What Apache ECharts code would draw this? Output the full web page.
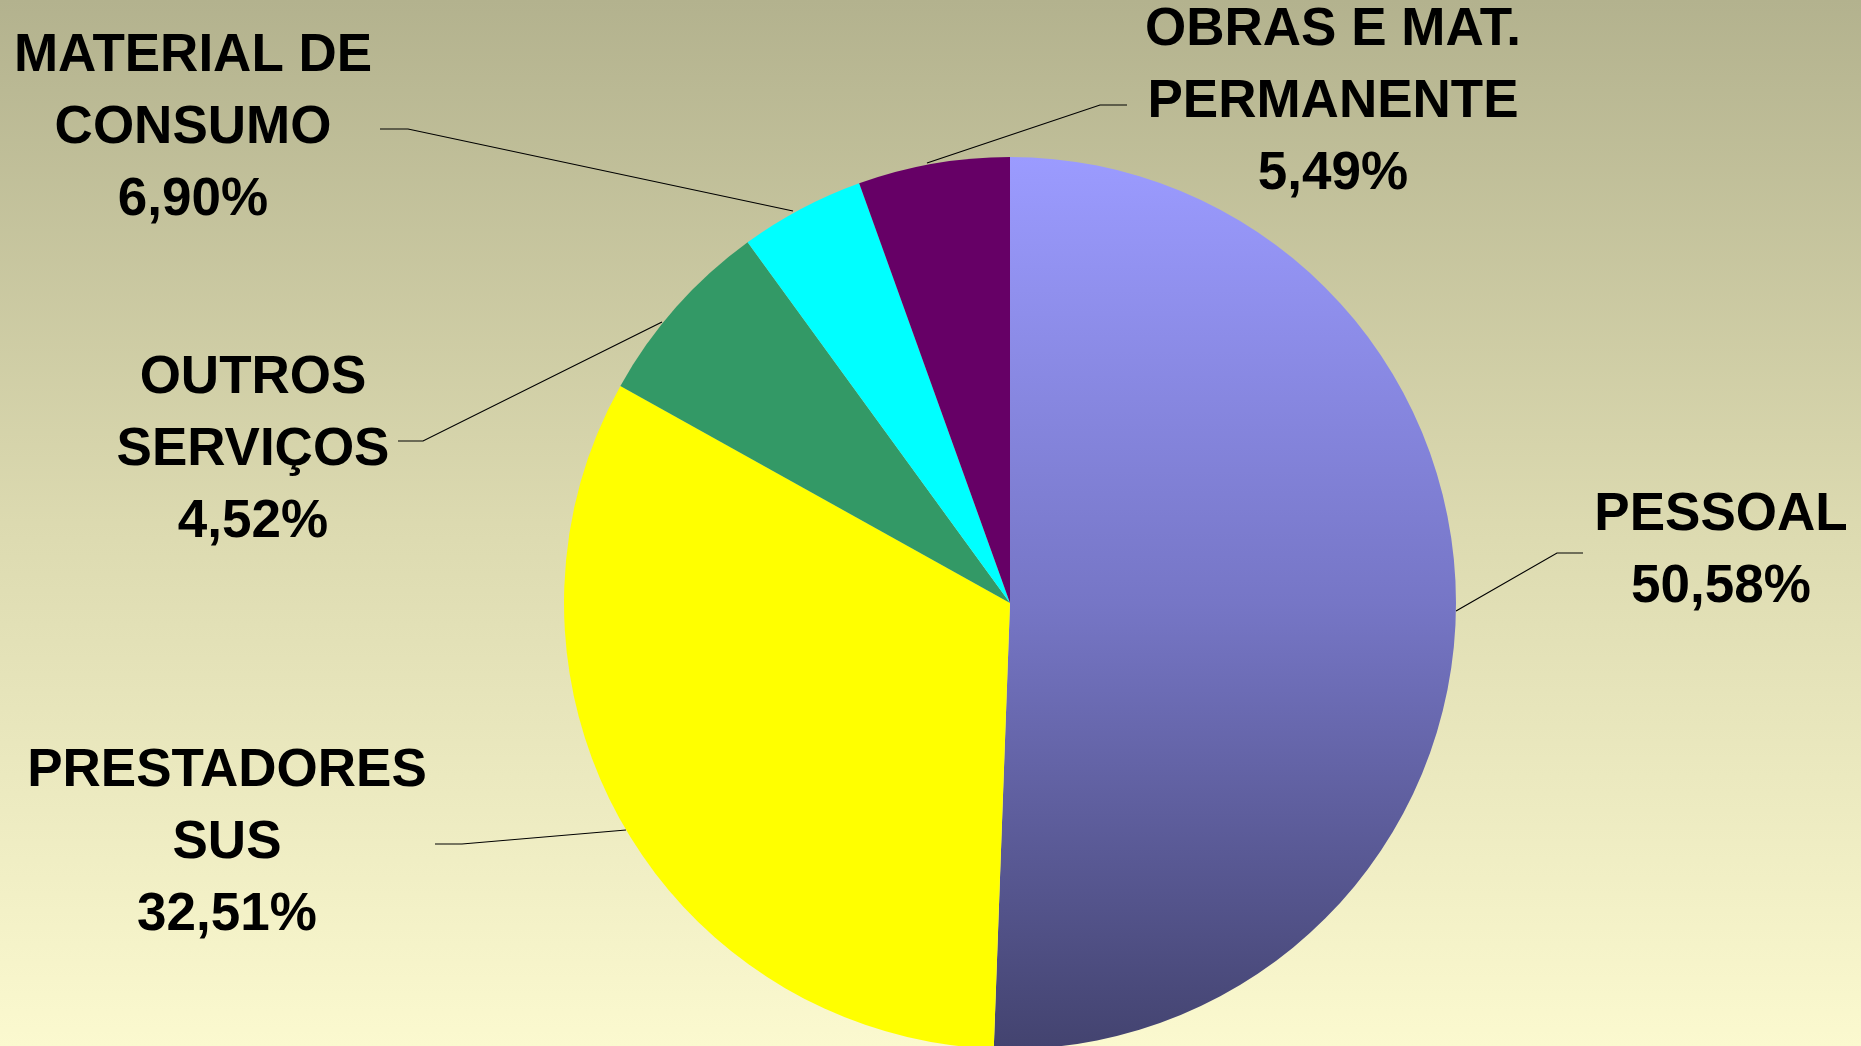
<!DOCTYPE html>
<html>
<head>
<meta charset="utf-8">
<title>Despesas</title>
<script src="https://cdn.jsdelivr.net/npm/echarts@6/dist/echarts.min.js"></script>
<style>
  html, body { margin: 0; padding: 0; overflow: hidden; }
  #chart { width: 1861px; height: 1046px; }
</style>
</head>
<body>
<div id="chart"></div>
<script>
// dados (clockwise from 12 o'clock)
const categories = ['PESSOAL', 'PRESTADORES\nSUS', 'MATERIAL DE\nCONSUMO', 'OUTROS\nSERVIÇOS', 'OBRAS E MAT.\nPERMANENTE']
const shares = [50.58, 32.51, 6.90, 4.52, 5.49]

const sliceColors = [
  new echarts.graphic.LinearGradient(0, 0, 0, 1, [
    { offset: 0, color: '#9b9bff' },
    { offset: 0.5, color: '#7676c6' },
    { offset: 1, color: '#43436f' }
  ]),
  '#ffff00',
  '#339966',
  '#00ffff',
  '#660066'
]

// where each label sits and how its leader line runs (as in the slide)
const labelSpots = [
  { x: 1721, y: 551, line: [[1456, 611], [1557, 553], [1583, 553]] },
  { x: 227, y: 843, line: [[626, 830], [462, 844], [435, 844]] },
  { x: 193, y: 128, line: [[793, 211], [408, 129], [380, 129]] },
  { x: 253, y: 450, line: [[662, 322], [423, 441], [398, 441]] },
  { x: 1333, y: 102, line: [[927, 163], [1100, 105], [1127, 105]] }
]

let chart = echarts.init(document.getElementById('chart'))
chart.setOption({
  animation: false,
  backgroundColor: new echarts.graphic.LinearGradient(0, 0, 0, 1, [
    { offset: 0, color: '#b3b28e' },
    { offset: 0.5, color: '#dcdab0' },
    { offset: 1, color: '#fbf9cf' }
  ]),
  series: [
    {
      type: 'pie',
      center: [1010, 603],
      radius: 446,
      startAngle: 90,
      clockwise: true,
      avoidLabelOverlap: false,
      data: categories.map((name, i) => ({
        name: name,
        value: shares[i],
        itemStyle: { color: sliceColors[i] }
      })),
      label: {
        show: true,
        position: 'outside',
        formatter: p => p.name + '\n' + p.value.toFixed(2).replace('.', ',') + '%',
        fontFamily: '"Liberation Sans", Arial, sans-serif',
        fontWeight: 'bold',
        fontSize: 53,
        lineHeight: 72,
        color: '#000',
        align: 'center'
      },
      labelLine: {
        show: true,
        lineStyle: { color: '#000', width: 1.2 }
      },
      labelLayout: function (params) {
        let s = labelSpots[params.dataIndex]
        return {
          x: s.x,
          y: s.y,
          align: 'center',
          verticalAlign: 'middle',
          labelLinePoints: s.line
        }
      }
    }
  ]
})
</script>
</body>
</html>
